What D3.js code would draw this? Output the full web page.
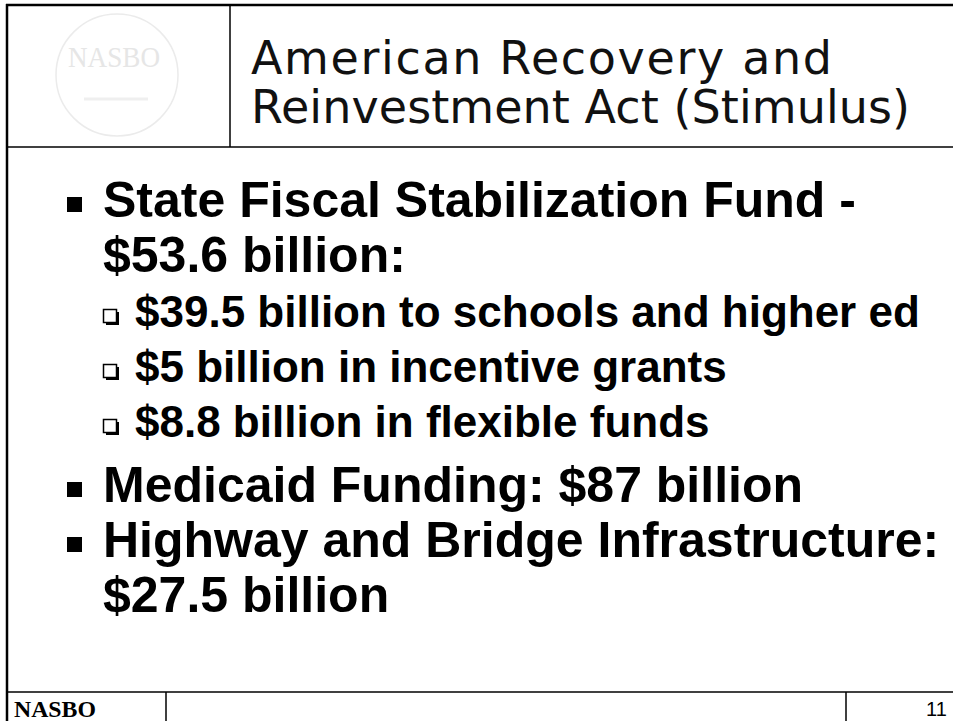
<!DOCTYPE html>
<html>
<head>
<meta charset="utf-8">
<script src="https://cdn.jsdelivr.net/npm/d3@7"></script>
<style>
html,body{margin:0;padding:0;background:#fff;}
svg{display:block;}
</style>
</head>
<body>
<script>
// ---- content ----
const titleLines = ["American Recovery and", "Reinvestment Act (Stimulus)"];
const titleWidths = [581, 659];
const bulletLevels = [1, 0, 2, 2, 2, 1, 1, 0];   // 1 = main bullet, 2 = sub bullet, 0 = continuation
const bulletTexts = [
  "State Fiscal Stabilization Fund -",
  "$53.6 billion:",
  "$39.5 billion to schools and higher ed",
  "$5 billion in incentive grants",
  "$8.8 billion in flexible funds",
  "Medicaid Funding: $87 billion",
  "Highway and Bridge Infrastructure:",
  "$27.5 billion"
];
const footerLeft = "NASBO";
const footerRight = "11";
const logoText = "NASBO";

const W = 953, H = 721;
const svg = d3.select("body").append("svg").attr("width", W).attr("height", H);

// frame
const ink = "#000";
function line(x1,y1,x2,y2,w){ svg.append("line").attr("x1",x1).attr("y1",y1).attr("x2",x2).attr("y2",y2).attr("stroke",ink).attr("stroke-width",w); }
line(6, 5, W, 5, 2.5);
line(7, 4, 7, H, 2.5);
line(7, 147, W, 147, 1.5);
line(230, 5, 230, 147, 1.5);
line(7, 692, W, 692, 1.5);
line(166, 692, 166, H, 1.5);
line(846, 692, 846, H, 1.5);

// faint logo
const logo = svg.append("g");
logo.append("circle").attr("cx", 117).attr("cy", 75).attr("r", 61)
  .attr("fill", "none").attr("stroke", "#ebebeb").attr("stroke-width", 1.5);
logo.append("text").attr("x", 68).attr("y", 67)
  .attr("font-family", "Liberation Serif").attr("font-size", 30).attr("fill", "#e6e6e6")
  .attr("textLength", 92).attr("lengthAdjust", "spacingAndGlyphs")
  .text(logoText);
logo.append("line").attr("x1", 84).attr("x2", 148).attr("y1", 99).attr("y2", 99)
  .attr("stroke", "#efefef").attr("stroke-width", 3);

// title
svg.selectAll("text.title").data(titleLines).join("text")
  .attr("class", "title")
  .attr("x", 251)
  .attr("y", (d, i) => 74 + i * 49)
  .attr("font-family", "DejaVu Sans")
  .attr("font-size", 46)
  .attr("fill", "#111")
  .attr("textLength", (d, i) => titleWidths[i])
  .attr("lengthAdjust", "spacing")
  .text(d => d);

// bullets
const rows = [];
let y = 217, prev = null;
bulletLevels.forEach((lv, i) => {
  if (i > 0) {
    y += 55;
    if (prev === 2 && lv === 1) y += 10;
  }
  rows.push({ level: lv, text: bulletTexts[i], y: y });
  if (lv !== 0) prev = lv;
});

const g = svg.append("g");
rows.forEach(r => {
  const isSub = r.level === 2;
  g.append("text")
    .attr("x", isSub ? 135 : 103)
    .attr("y", r.y)
    .attr("font-family", "Liberation Sans, Arial, sans-serif")
    .attr("font-weight", "bold")
    .attr("font-size", isSub ? 44 : 50)
    .attr("fill", "#000")
    .text(r.text);
  if (r.level === 1) {
    g.append("rect").attr("x", 67).attr("y", r.y - 20).attr("width", 15).attr("height", 15).attr("fill", "#000");
  } else if (r.level === 2) {
    g.append("rect").attr("x", 106).attr("y", r.y - 15).attr("width", 13).attr("height", 13)
      .attr("fill", "#000");
    g.append("rect").attr("x", 103.5).attr("y", r.y - 17.5).attr("width", 13).attr("height", 13)
      .attr("fill", "#fff").attr("stroke", "#000").attr("stroke-width", 1.5);
  }
});

// footer
svg.append("text").attr("x", 14).attr("y", 717)
  .attr("font-family", "Liberation Serif, Times New Roman, serif").attr("font-weight", "bold")
  .attr("font-size", 23).attr("fill", "#000")
  .attr("textLength", 82).attr("lengthAdjust", "spacingAndGlyphs")
  .text(footerLeft);
svg.append("text").attr("x", 926).attr("y", 716)
  .attr("font-family", "Liberation Sans, Arial, sans-serif")
  .attr("font-size", 20).attr("fill", "#000").text(footerRight);
</script>
</body>
</html>
